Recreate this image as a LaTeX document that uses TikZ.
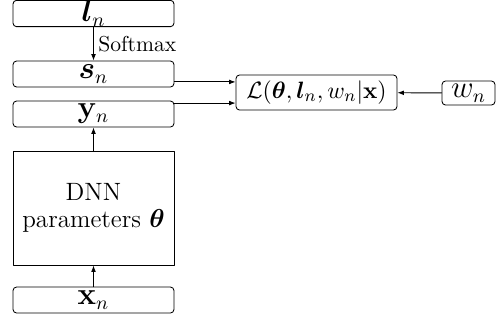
\documentclass[tikz,border=0pt]{standalone}
\usepackage{amsmath,amssymb,bm}
\usetikzlibrary{arrows.meta,positioning}

\begin{document}
\begin{tikzpicture}[x=0.463pt,y=-0.463pt,line cap=round,line join=round,>={Latex[length=3pt,width=2.2pt]},
	blk/.style={draw,rounded corners=1.6pt,inner sep=0pt,font=\fontsize{13.5}{15}\selectfont,minimum width=74.5pt,minimum height=12pt},
	netbox/.style={draw,inner sep=0pt,minimum width=74.5pt,minimum height=52.8pt,align=center,font=\fontsize{11.6}{12.8}\selectfont}]
		\useasboundingbox (0,0) rectangle (498,321);
		\node[blk] (ln) at (93.5,13.5) {$\boldsymbol{l}_n$};
		\node[blk] (sn) at (93.5,74) {$\boldsymbol{s}_n$};
		\node[blk] (yn) at (93.5,114) {$\mathbf{y}_n$};
		\node[netbox] (dnn) at (93.5,208) {DNN\\parameters $\boldsymbol{\theta}$};
		\node[blk] (xn) at (93.5,300) {$\mathbf{x}_n$};
		\node[blk,minimum height=16.2pt,font=\fontsize{11}{13}\selectfont] (loss) at (316.5,92.5) {$\mathcal{L}(\boldsymbol{\theta},\boldsymbol{l}_n,w_n|\mathbf{x})$};
		\node[blk,minimum width=24.5pt,minimum height=11.1pt] (wn) at (468.5,93) {$w_n$};
		\draw [->] (ln) -- node[right,inner sep=2pt] {Softmax} (sn);
		\draw [->] (xn) -- (dnn);
		\draw [->] (dnn) -- (yn);
		\draw [->] ([yshift=4.9pt]loss.west -| sn.east) -- ([yshift=4.9pt]loss.west);
		\draw [->] ([yshift=-4.9pt]loss.west -| yn.east) -- ([yshift=-4.9pt]loss.west);
		\draw [->] (wn) -- (loss);
	\end{tikzpicture}
\end{document}
